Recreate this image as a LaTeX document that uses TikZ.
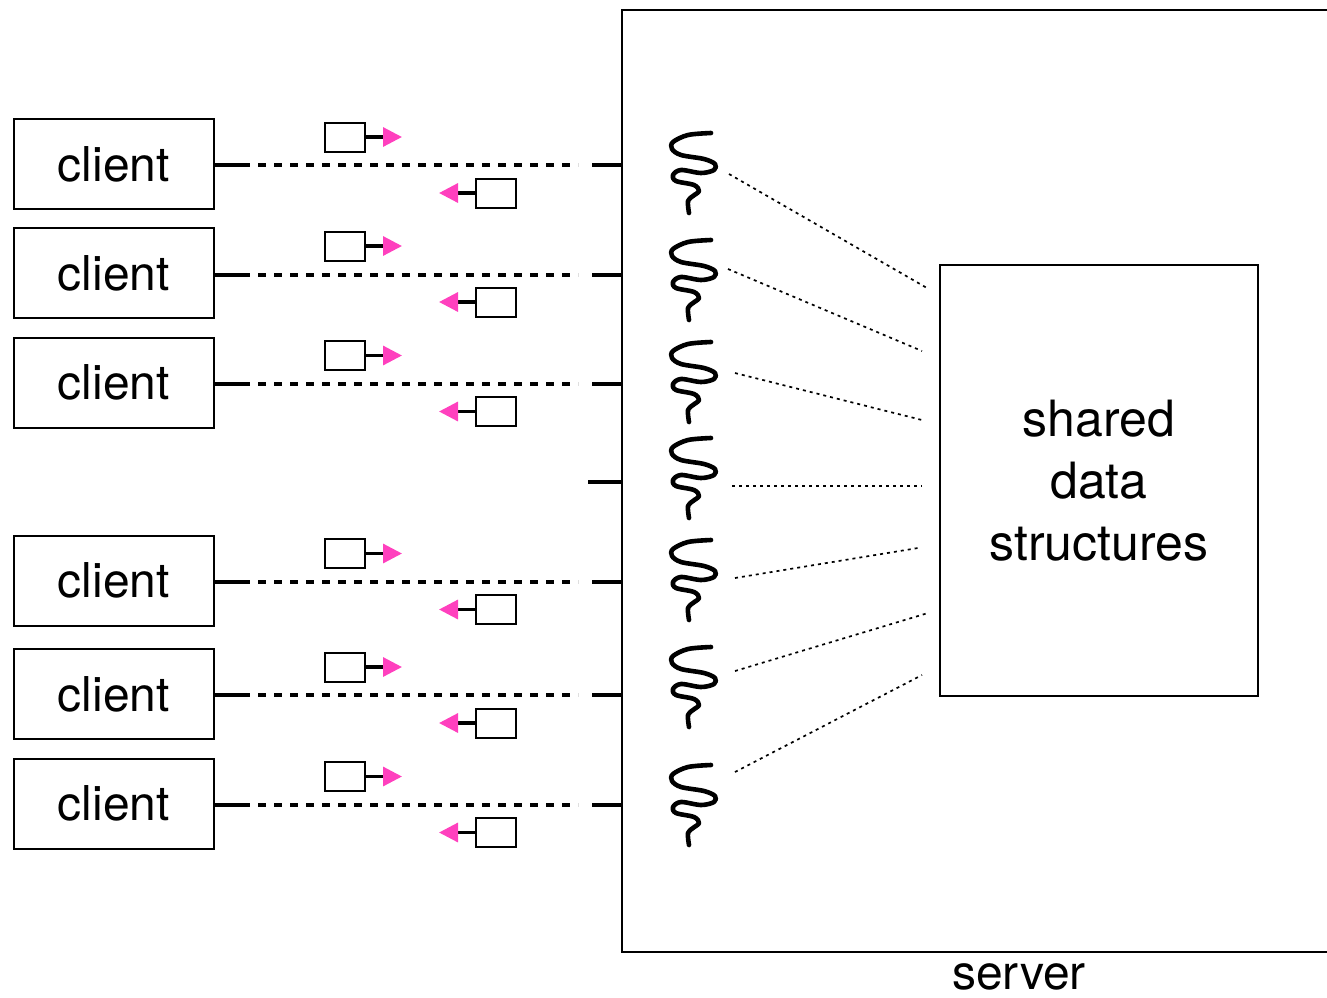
\documentclass[tikz,border=0pt]{standalone}
\usepackage{fontspec}
\setmainfont{TeX Gyre Heros}
\usetikzlibrary{arrows.meta}
\definecolor{msgpink}{RGB}{255,64,190}
\begin{document}
\begin{tikzpicture}[x=0.5pt,y=-0.5pt,
  box/.style={draw=black,line width=1pt},
  clientbox/.style={box,minimum width=100pt,minimum height=45pt,inner sep=0pt,font=\fontsize{24}{28}\selectfont},
  conn/.style={line width=2pt},
  conndash/.style={line width=2pt,dash pattern=on 4pt off 4pt},
  dotline/.style={line width=0.85pt,dash pattern=on 1.5pt off 2pt},
  msgbox/.style={draw=black,line width=1pt,minimum width=20pt,minimum height=14.5pt,inner sep=0pt},
  msgline/.style={line width=1.6pt,-{Triangle[length=9.5pt,width=9.5pt,color=msgpink]}},
  threadline/.style={line width=2.3pt,line cap=round,line join=round},
  thread/.pic={\draw[threadline] plot[smooth,tension=0.55] coordinates
    {(0,0) (-23,2) (-38,9) (-39,16) (-30,22) (-7,26) (4,31) (3,37) (-10,40) (-30,37) (-38,42) (-35,48) (-17,52) (-12,58) (-18,63) (-23,68) (-22,80)};}
]
\useasboundingbox (0,0) rectangle (1327,997);

% server
\node[minimum width=352.5pt,minimum height=471pt,inner sep=0pt] (server) at (974.5,481) {};
\draw[box] (server.north east) -- (server.north west) -- (server.south west) -- (server.south east);
\node[anchor=base,font=\fontsize{24}{28}\selectfont] (serverlabel) at (1019,989) {server};

% shared data structures
\node[box,minimum width=159pt,minimum height=215.5pt,align=center,inner sep=0pt,
      font=\fontsize{25}{31}\selectfont] (shared) at (1099,480.5) {shared\\data\\structures};

% clients: box centre / connection line
\foreach \i/\c/\l in {1/164/165,2/273/275,3/382.5/384,5/580.5/582,6/694/695,7/803.5/805}{
  \node[clientbox] (c\i) at (114,\c) {client};
  \coordinate (a\i) at (250,\l);
  \coordinate (d\i) at (258,\l);
  \coordinate (b\i) at (578,\l);
  \coordinate (s\i) at (592,\l);
  \draw[conn] (c\i.east |- a\i) -- (a\i);
  \draw[conndash] (d\i) -- (b\i);
  \draw[conn] (s\i) -- (s\i -| server.west);
  % outgoing message
  \node[msgbox] (up\i) at (345,\c-27) {};
  \coordinate (upt\i) at (402,\c-27);
  \draw[msgline] (up\i.east) -- (upt\i);
  % incoming message
  \node[msgbox] (dn\i) at (496,\c+29) {};
  \coordinate (dnt\i) at (439,\c+29);
  \draw[msgline] (dn\i.west) -- (dnt\i);
}
% listening socket (row 4)
\coordinate (s4) at (588,482);
\draw[conn] (s4) -- (s4 -| server.west);

% threads and their links to the shared data
\foreach \i/\ty/\ex/\ey/\fx/\fy in {
  1/133/729/174/927/288,
  2/240/728/269/922/351,
  3/342/735/373/922/420,
  4/438/732/486/922/486,
  5/540/735/578/918/548,
  6/647/735/671/928/613,
  7/765/735/772/922/675}{
  \coordinate (t\i) at (711,\ty);
  \pic at (t\i) {thread};
  \coordinate (e\i) at (\ex,\ey);
  \coordinate (f\i) at (\fx,\fy);
  \draw[dotline] (e\i) -- (f\i);
}
\end{tikzpicture}
\end{document}
